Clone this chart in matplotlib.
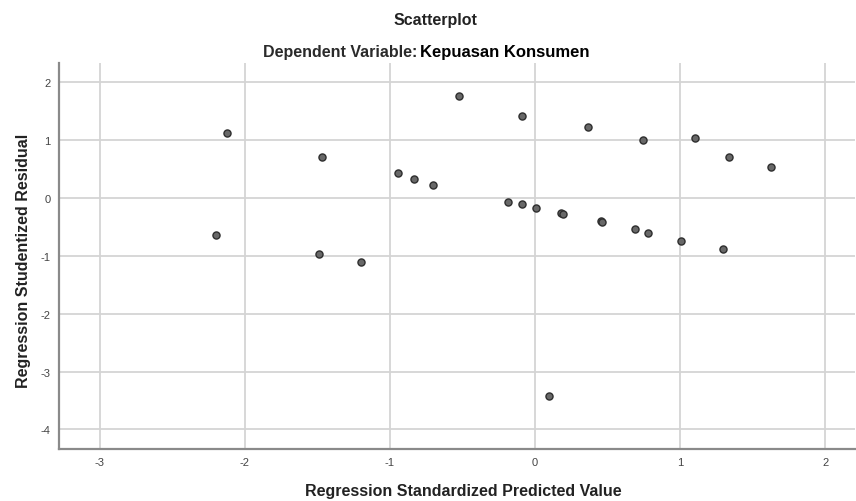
import matplotlib.pyplot as plt

# residual plot values
pred = [-0.521, -2.120, -1.467, -0.944, -0.834, -0.703, -2.196, -1.485, -1.200,
        -0.092, 0.362, 0.745, 1.103, 1.335, 1.626,
        -0.186, -0.092, 0.004, 0.176, 0.195, 0.458, 0.465, 0.690, 0.780, 1.007, 1.298,
        0.094]
resid = [1.756, 1.123, 0.708, 0.437, 0.333, 0.219, -0.639, -0.967, -1.100,
         1.411, 1.232, 0.996, 1.036, 0.714, 0.541,
         -0.063, -0.109, -0.173, -0.259, -0.282, -0.397, -0.420, -0.530, -0.599, -0.737, -0.881,
         -3.420]
xticks = [-3, -2, -1, 0, 1, 2]
yticks = [2, 1, 0, -1, -2, -3, -4]

font = ['Liberation Sans', 'DejaVu Sans']

fig = plt.figure(figsize=(8.56, 5.02), dpi=100)
ax = fig.add_axes([0.069, 0.104, 0.93, 0.768])

ax.scatter(pred, resid, s=26, c='#686868', edgecolors='#2e2e2e', linewidths=1.0, zorder=3)

ax.set_xlim(-3.279, 2.206)
ax.set_ylim(-4.335, 2.33)
ax.set_xticks(xticks)
ax.set_yticks(yticks)
ax.set_xticklabels([str(t) for t in xticks], family=font, fontsize=8, color='#444444')
ax.set_yticklabels([str(t) for t in yticks], family=font, fontsize=8, color='#444444')
ax.tick_params(axis='x', length=0, pad=6)
ax.tick_params(axis='y', length=0, pad=6)
ax.grid(True, color='#d4d4d4', linewidth=1.3, zorder=0)

for s in ['top', 'right']:
    ax.spines[s].set_visible(False)
for s in ['left', 'bottom']:
    ax.spines[s].set_color('#8a8a8a')
    ax.spines[s].set_linewidth(1.6)

ax.set_xlabel('Regression Standardized Predicted Value', family=font, fontsize=11.5,
              fontweight='bold', color='#222222', va='center')
ax.set_ylabel('Regression Studentized Residual', family=font, fontsize=11.5,
              fontweight='bold', color='#222222', va='center')
ax.xaxis.set_label_coords(0.508, -0.108)
ax.yaxis.set_label_coords(-0.045, 0.49)

fig.text(435 / 856, 1 - 21 / 502, 'Scatterplot', family=font, fontsize=11.5, fontweight='bold',
         color='#222222', ha='center', va='center')
fig.text(417 / 856, 1 - 53 / 502, 'Dependent Variable:', family=font, fontsize=11.5,
         fontweight='bold', color='#2a2a2a', ha='right', va='center')
fig.text(420 / 856, 1 - 53 / 502, 'Kepuasan Konsumen', family=font, fontsize=12,
         fontweight='bold', color='black', ha='left', va='center')

fig.savefig('out.png', dpi=100)
